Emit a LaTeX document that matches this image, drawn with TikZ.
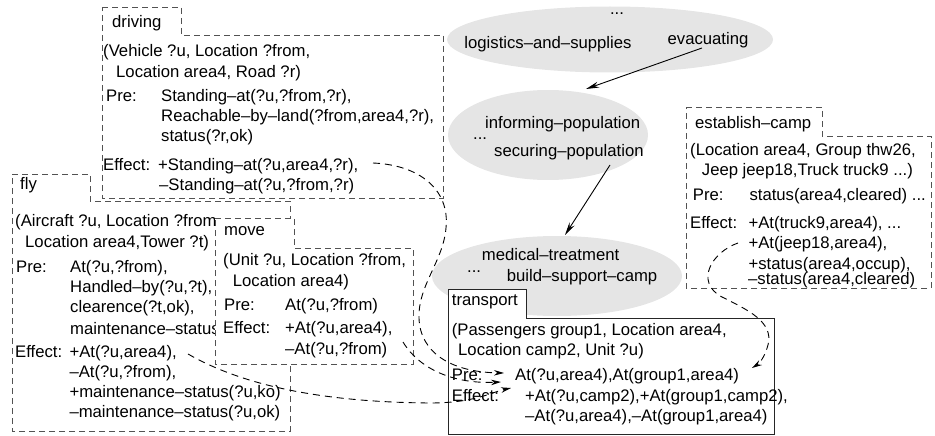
\documentclass[tikz,border=0pt]{standalone}
\usepackage{fontspec}
\setmainfont{Liberation Sans}
\usetikzlibrary{arrows.meta}
\begin{document}
\begin{tikzpicture}[x=1pt,y=-1pt,
  txt/.style={anchor=base west, inner sep=0pt, font=\fontsize{16.7}{20}\selectfont},
  ctxt/.style={anchor=base, inner sep=0pt, font=\fontsize{16.7}{20}\selectfont},
  opbox/.style={draw=black!68, dash pattern=on 6pt off 4pt, line width=0.9pt, fill=white},
  solidbox/.style={draw=black!85, line width=0.9pt, fill=white},
  goal/.style={fill=black!10},
  conn/.style={draw=black, dash pattern=on 7pt off 5pt, line width=0.9pt, -{Stealth[length=10pt,width=5.5pt]}},
  link/.style={draw=black, line width=0.9pt, -{Stealth[length=13pt,width=6pt]}}]
\useasboundingbox (0,0) rectangle (935,436);

% goal ellipses
\fill[goal] (610,39.5) ellipse [x radius=163pt, y radius=33pt];
\fill[goal] (548,135) ellipse [x radius=100pt, y radius=45pt];
\fill[goal] (557,276) ellipse [x radius=125pt, y radius=40pt];

\node[ctxt] (dots1) at (617,15) {...};
\node[ctxt] (logi) at (548,48.5) {logistics–and–supplies};
\node[ctxt] (evac) at (708,44.3) {evacuating};
\node[txt] (inform) at (485,128.3) {informing–population};
\node[txt] (dots2) at (473,139.3) {...};
\node[txt] (secur) at (494,156.7) {securing–population};

\coordinate (e1s) at (702,48);
\coordinate (e1t) at (586,89);
\coordinate (e2s) at (610,165);
\coordinate (e2t) at (565,235);
\draw[link] (e1s) -- (e1t);
\draw[link] (e2s) -- (e2t);

% driving
\draw[opbox] (102,7) -- (181,7) -- (181,35) -- (443,35) -- (443,198) -- (102,198) -- cycle;
\node[txt] (drvN) at (112,28) {driving};
\node[txt] (drvP1) at (103,57) {(Vehicle ?u, Location ?from,};
\node[txt] (drvP2) at (116,77.3) {Location area4, Road ?r)};
\node[txt] (drvPre) at (106,101.7) {Pre:};
\node[txt] (drvC1) at (161,101.7) {Standing–at(?u,?from,?r),};
\node[txt] (drvC2) at (161,121.7) {Reachable–by–land(?from,area4,?r),};
\node[txt] (drvC3) at (161,141.7) {status(?r,ok)};
\node[txt] (drvEff) at (103,170) {Effect:};
\node[txt] (drvE1) at (158,170) {+Standing–at(?u,area4,?r),};
\node[txt] (drvE2) at (159,190.5) {–Standing–at(?u,?from,?r)};

% fly
\draw[opbox] (12,174) -- (90,174) -- (90,201) -- (290,201) -- (290,431) -- (12,431) -- cycle;
\node[txt] (flyN) at (20,189) {fly};
\node[txt] (flyP1) at (15,226) {(Aircraft ?u, Location ?from,};
\node[txt] (flyP2) at (25,247) {Location area4,Tower ?t)};
\node[txt] (flyPre) at (16,272.7) {Pre:};
\node[txt] (flyC1) at (70,272.7) {At(?u,?from),};
\node[txt] (flyC2) at (70,292.7) {Handled–by(?u,?t),};
\node[txt] (flyC3) at (70,312.7) {clearence(?t,ok),};
\node[txt] (flyC4) at (70,334) {maintenance–status};
\node[txt] (flyEff) at (15,357.3) {Effect:};
\node[txt] (flyE1) at (69.3,357.3) {+At(?u,area4),};
\node[txt] (flyE2) at (69.3,377.3) {–At(?u,?from),};
\node[txt] (flyE3) at (69.3,397.3) {+maintenance–status(?u,ko)};
\node[txt] (flyE4) at (69.3,417.3) {–maintenance–status(?u,ok)};

% move
\draw[opbox] (215,218) -- (294,218) -- (294,248) -- (413,248) -- (413,364) -- (215,364) -- cycle;
\node[txt] (movN) at (224,235) {move};
\node[txt] (movP1) at (223,265) {(Unit ?u, Location ?from,};
\node[txt] (movP2) at (232.7,286) {Location area4)};
\node[txt] (movPre) at (224,310.7) {Pre:};
\node[txt] (movC1) at (285,310.7) {At(?u,?from)};
\node[txt] (movEff) at (223,333.3) {Effect:};
\node[txt] (movE1) at (285,333.3) {+At(?u,area4),};
\node[txt] (movE2) at (285,354) {–At(?u,?from)};

% establish-camp
\draw[opbox] (686,107) -- (822,107) -- (822,136) -- (931,136) -- (931,288) -- (686,288) -- cycle;
\node[txt] (estN) at (695,128.3) {establish–camp};
\node[txt] (estP1) at (690,155) {(Location area4, Group thw26,};
\node[txt] (estP2) at (701.7,175) {Jeep jeep18,Truck truck9 ...)};
\node[txt] (estPre) at (692.7,200) {Pre:};
\node[txt] (estC1) at (749.3,200) {status(area4,cleared) ...};
\node[txt] (estEff) at (690,228.3) {Effect:};
\node[txt] (estE1) at (748.3,228.3) {+At(truck9,area4), ...};
\node[txt] (estE2) at (748.3,248.3) {+At(jeep18,area4),};
\node[txt] (estE3) at (748.3,269) {+status(area4,occup),};
\node[txt] (estE4) at (748,284.5) {–status(area4,cleared)};

% transport
\draw[solidbox] (448,289) -- (526,289) -- (526,318) -- (774,318) -- (774,434) -- (448,434) -- cycle;
\node[txt] (trnN) at (451.7,305) {transport};
\node[txt] (trnP1) at (451.7,335) {(Passengers group1, Location area4,};
\node[txt] (trnP2) at (458,355) {Location camp2, Unit ?u)};
\node[txt] (trnPre) at (451.7,380) {Pre:};
\node[txt] (trnC1) at (515,380) {At(?u,area4),At(group1,area4)};
\node[txt] (trnEff) at (451.7,401.7) {Effect:};
\node[txt] (trnE1) at (525,401.7) {+At(?u,camp2),+At(group1,camp2),};
\node[txt] (trnE2) at (525,421.7) {–At(?u,area4),–At(group1,area4)};

% bottom ellipse texts
\node[txt] (medic) at (481.7,260) {medical–treatment};
\node[txt] (dots3) at (467,272.7) {...};
\node[txt] (build) at (506.7,281.7) {build–support–camp};

% dashed connectors
\coordinate (aS) at (373,163);
\coordinate (aT) at (504,373);
\coordinate (bS) at (188,354);
\coordinate (bT) at (511,388);
\coordinate (cS) at (403,342);
\coordinate (cT) at (501,382);
\coordinate (dS) at (738,243);
\coordinate (dT) at (752,368);
\draw[conn] (aS) .. controls (420,165) and (450,190) .. (446,228)
  .. controls (443,262) and (418,285) .. (419,318)
  .. controls (420,352) and (450,372) .. (aT);
\draw[conn] (bS) .. controls (230,378) and (300,402) .. (430,403)
  .. controls (475,403) and (492,392) .. (bT);
\draw[conn] (cS) .. controls (420,370) and (455,384) .. (cT);
\draw[conn] (dS) .. controls (712,252) and (694,282) .. (722,297)
  .. controls (748,310) and (774,322) .. (768,345)
  .. controls (765,356) and (760,363) .. (dT);
\end{tikzpicture}
\end{document}
